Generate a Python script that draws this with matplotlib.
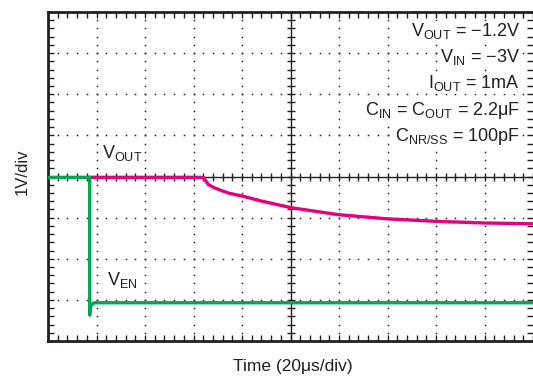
"""Scope-style transient plot: V_OUT response to V_EN step."""
import numpy as np
import matplotlib
matplotlib.use("Agg")
import matplotlib.pyplot as plt

plt.rcParams["font.family"] = ["Liberation Sans", "DejaVu Sans"]
plt.rcParams["mathtext.fontset"] = "custom"
plt.rcParams["mathtext.rm"] = "Liberation Sans"
plt.rcParams["mathtext.it"] = "Liberation Sans:italic"
plt.rcParams["mathtext.bf"] = "Liberation Sans:bold"

# ---- data (in divisions: x 0..10, y 0..8) ---------------------------------
vout_t = [0.87, 3.20, 3.23, 3.27, 3.31, 3.44, 3.71, 4.02, 4.41, 5.02, 6.0, 7.0, 8.0, 9.0, 10.0]
vout_v = [3.98, 3.98, 3.93, 3.86, 3.80, 3.72, 3.60, 3.52, 3.40, 3.24, 3.07, 2.97, 2.91, 2.87, 2.85]

ven_t = [0.0, 0.86, 0.86, 0.87, 0.90, 0.96, 10.0]
ven_v = [3.98, 3.98, 0.63, 0.80, 0.89, 0.93, 0.93]

notes = [r"$\mathrm{V_{OUT}}$ = −1.2V",
         r"$\mathrm{V_{IN}}$ = −3V",
         r"$\mathrm{I_{OUT}}$ = 1mA",
         r"$\mathrm{C_{IN}}$ = $\mathrm{C_{OUT}}$ = 2.2μF",
         r"$\mathrm{C_{NR/SS}}$ = 100pF"]

MAGENTA = "#e6007e"
GREEN = "#00a651"
INK = "#231f20"
FS = 13

fig = plt.figure(figsize=(5.33, 3.78), dpi=100)
ax = fig.add_axes([48 / 533, 37 / 378, 485 / 533, 329 / 378])
ax.set_xlim(0, 10)
ax.set_ylim(0, 8)

# frame
for s in ("left", "top", "bottom"):
    ax.spines[s].set_linewidth(2.0)
    ax.spines[s].set_color(INK)
ax.spines["right"].set_visible(False)

minor_x = np.arange(0, 10.001, 0.2)
minor_y = np.arange(0, 8.001, 0.2)
ax.set_xticks(minor_x)
ax.set_yticks(minor_y)
ax.set_xticklabels([])
ax.set_yticklabels([])
ax.tick_params(direction="in", length=4, width=1.0, color=INK,
               top=True, bottom=True, left=True, right=True)

# dotted graticule
for gx in range(1, 10):
    if gx == 5:
        continue
    ax.plot(np.full_like(minor_y, gx), minor_y, ls="none", marker="s",
            ms=1.1, mew=0, color=INK, zorder=1)
for gy in range(1, 8):
    if gy == 4:
        continue
    ax.plot(minor_x, np.full_like(minor_x, gy), ls="none", marker="s",
            ms=1.1, mew=0, color=INK, zorder=1)

# solid centre lines with ticks
ax.axhline(4, color=INK, lw=1.0, zorder=1)
ax.axvline(5, color=INK, lw=1.0, zorder=1)
ax.plot(minor_x, np.full_like(minor_x, 4), ls="none", marker="|", ms=6,
        mew=1.0, color=INK, zorder=1)
ax.plot(np.full_like(minor_y, 5), minor_y, ls="none", marker="_", ms=6,
        mew=1.0, color=INK, zorder=1)

# traces
ax.plot(vout_t, vout_v, color=MAGENTA, lw=2.4, zorder=3,
        solid_joinstyle="round")
ax.plot(ven_t, ven_v, color=GREEN, lw=2.4, zorder=4,
        solid_joinstyle="round")

# labels
ax.text(1.11, 4.46, r"$\mathrm{V_{OUT}}$", fontsize=FS, color=INK,
        ha="left", va="baseline")
ax.text(1.22, 1.37, r"$\mathrm{V_{EN}}$", fontsize=FS, color=INK,
        ha="left", va="baseline")

for i, s in enumerate(notes):
    ax.text(9.73, 7.41 - i * 0.635, s, fontsize=FS, color=INK,
            ha="right", va="baseline",
            bbox=dict(fc="white", ec="none", pad=0.5))

fig.text(293 / 533, 1 - 366 / 378, "Time (20μs/div)", fontsize=12.5,
         color=INK, ha="center", va="center")
fig.text(22 / 533, 1 - 172 / 378, "1V/div", fontsize=12, color=INK,
         ha="center", va="center", rotation=90)

fig.savefig("out.png", dpi=100, facecolor="white")
